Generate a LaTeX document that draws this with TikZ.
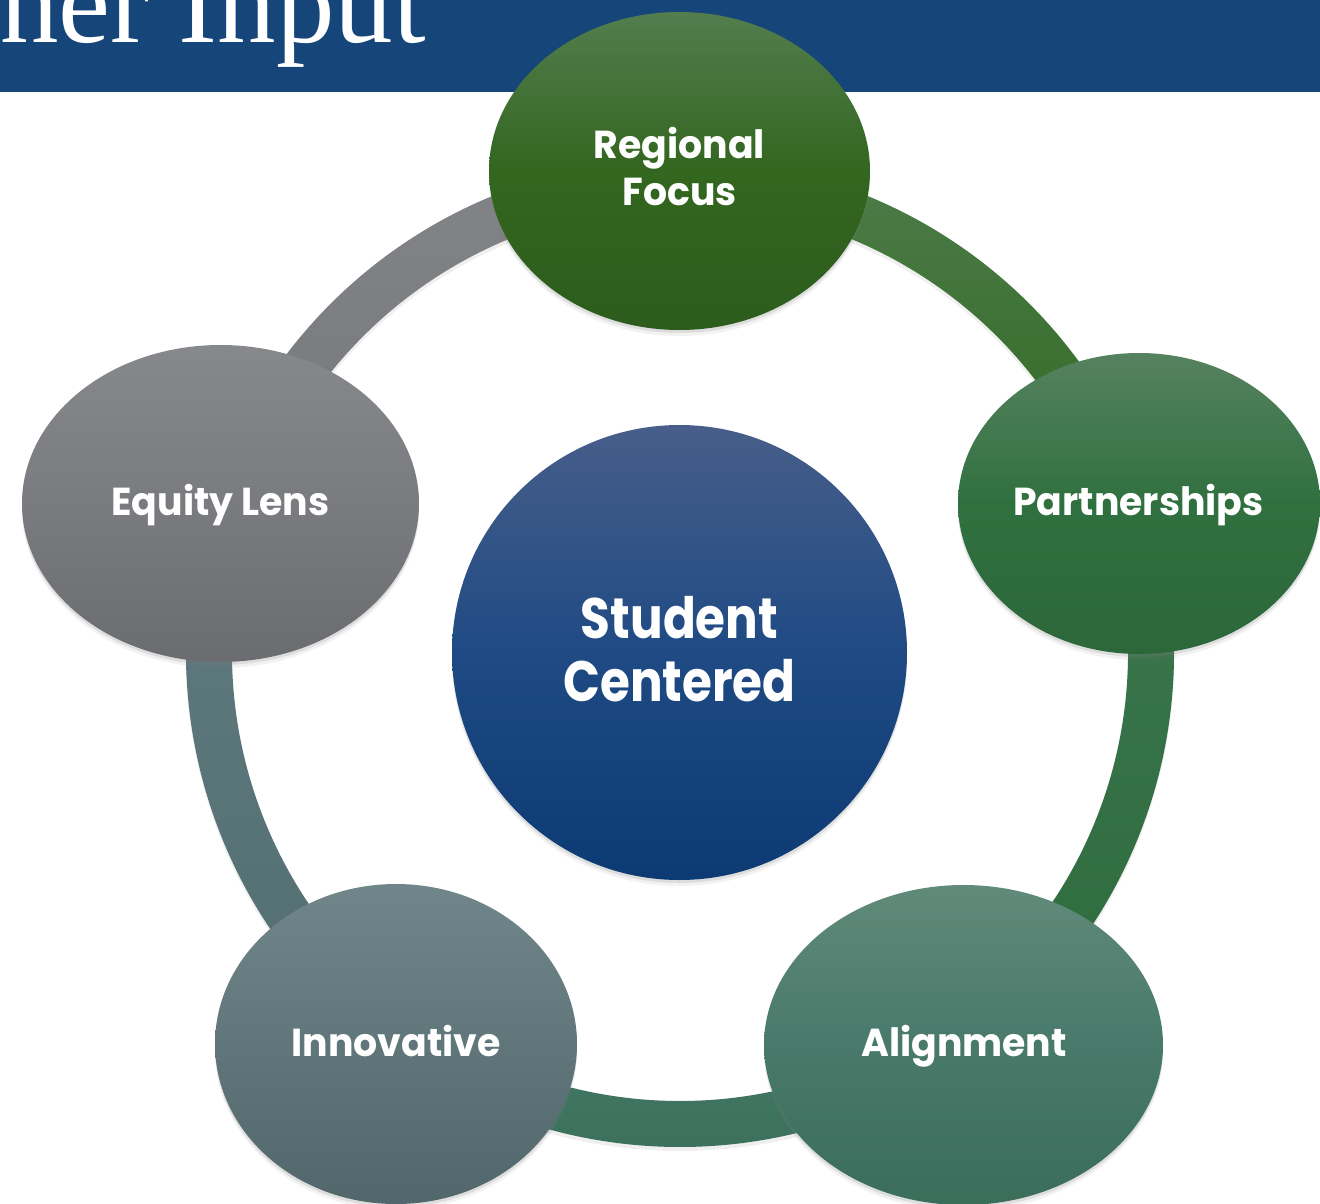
\documentclass[tikz,border=0pt]{standalone}
\usepackage{fontspec}
\setmainfont{Liberation Serif}
\newfontfamily\lblfont[FakeStretch=0.97]{Poppins}
\newfontfamily\biglblfont[FakeStretch=0.85]{Poppins}
\usetikzlibrary{shapes.geometric,shadows}
\definecolor{banner}{RGB}{22,70,121}
\definecolor{regT}{HTML}{537D4E}\definecolor{regM}{HTML}{33661F}\definecolor{regB}{HTML}{2C5C1C}
\definecolor{parT}{HTML}{56825F}\definecolor{parM}{HTML}{30703F}\definecolor{parB}{HTML}{2C673A}
\definecolor{aliT}{HTML}{618A7A}\definecolor{aliM}{HTML}{48796A}\definecolor{aliB}{HTML}{3B6D5B}
\definecolor{innT}{HTML}{71868A}\definecolor{innM}{HTML}{60767A}\definecolor{innB}{HTML}{52676B}
\definecolor{equT}{HTML}{87888C}\definecolor{equM}{HTML}{7A7B7F}\definecolor{equB}{HTML}{6B6C70}
\definecolor{cenT}{HTML}{475E89}\definecolor{cenM}{HTML}{1F4A84}\definecolor{cenB}{HTML}{0C3A73}
\definecolor{s1T}{HTML}{4E7C4A}\definecolor{s1B}{HTML}{2E6820}
\definecolor{s2T}{HTML}{3C7650}\definecolor{s2B}{HTML}{2D6B3A}
\definecolor{s3T}{HTML}{447B66}\definecolor{s3B}{HTML}{3A6E5A}
\definecolor{s4T}{HTML}{5F7B7F}\definecolor{s4B}{HTML}{536E71}
\definecolor{s5T}{HTML}{838488}\definecolor{s5B}{HTML}{76777B}
\tikzset{
  bubble/.style={ellipse, inner sep=0pt, draw=none,
    drop shadow={shadow xshift=0pt, shadow yshift=-6pt, opacity=.10},
    drop shadow={shadow xshift=0pt, shadow yshift=-3pt, opacity=.18}},
  ringpart/.style={draw=none,
    drop shadow={shadow xshift=0pt, shadow yshift=-4pt, opacity=.12}},
  lbl/.style={text=white, inner sep=0pt, anchor=base, font=\lblfont\bfseries\fontsize{39}{39}\selectfont},
  biglbl/.style={text=white, inner sep=0pt, anchor=base, font=\biglblfont\bfseries\fontsize{57}{57}\selectfont}
}
\newcommand\ringseg[4]{%
  \path[ringpart, top color=#3, bottom color=#4]
    ([shift={(680,-653)}]#1:494) arc[start angle=#1, end angle=#2, radius=494]
    -- ([shift={(680,-653)}]#2:448) arc[start angle=#2, end angle=#1, radius=448] -- cycle;}
\begin{document}
\begin{tikzpicture}[x=1pt,y=1pt]
\useasboundingbox (0,0) rectangle (1320,-1204);
\begin{scope}
\clip (0,0) rectangle (1320,-1204);
\fill[white] (0,0) rectangle (1320,-1204);
\fill[banner] (0,0) rectangle (1320,-92);
\node[anchor=base west, inner sep=0pt, text=white, font=\fontsize{117}{117}\selectfont] (title) at (0,-43) {ner Input};
% ring segments
\ringseg{90}{18}{s1T}{s1B}
\ringseg{18}{-54}{s2T}{s2B}
\ringseg{-54}{-126}{s3T}{s3B}
\ringseg{-126}{-198}{s4T}{s4B}
\ringseg{162}{90}{s5T}{s5B}
% outer bubbles
\node[bubble, minimum width=381, minimum height=318, top color=regT, bottom color=regB, middle color=regM] (reg) at (679.5,-171) {};
\node[bubble, minimum width=362, minimum height=301, top color=parT, bottom color=parB, middle color=parM] (par) at (1139,-503.5) {};
\node[bubble, minimum width=399, minimum height=320, top color=aliT, bottom color=aliB, middle color=aliM] (ali) at (963.5,-1045) {};
\node[bubble, minimum width=362, minimum height=320, top color=innT, bottom color=innB, middle color=innM] (inn) at (396,-1044) {};
\node[bubble, minimum width=397, minimum height=317, top color=equT, bottom color=equB, middle color=equM] (equ) at (220.5,-503.5) {};
% centre
\node[bubble, circle, minimum size=455, top color=cenT, bottom color=cenB, middle color=cenM] (cen) at (679.5,-652.5) {};
% labels
\node[lbl] (reg1) at (679.5,-159) {Regional};
\node[lbl] (reg2) at (679.5,-205) {Focus};
\node[lbl] (par1) at (1138.5,-515) {Partnerships};
\node[lbl] (equ1) at (220.5,-515) {Equity Lens};
\node[lbl] (inn1) at (396,-1056) {Innovative};
\node[lbl] (ali1) at (964,-1056) {Alignment};
\node[biglbl] (cen1) at (679.5,-638) {Student};
\node[biglbl] (cen2) at (679.5,-701) {Centered};
\end{scope}
\end{tikzpicture}
\end{document}
